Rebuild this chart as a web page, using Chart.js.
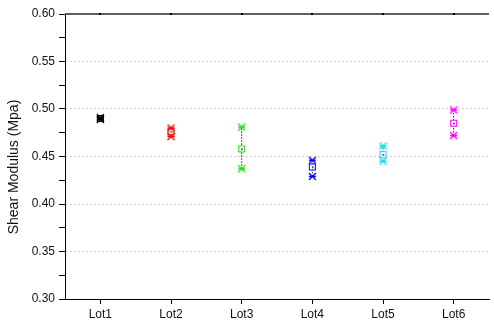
<!DOCTYPE html>
<html>
<head>
<meta charset="utf-8">
<script src="https://cdn.jsdelivr.net/npm/chart.js@4/dist/chart.umd.min.js"></script>
<style>
  html, body { margin: 0; padding: 0; background: #fff; }
  #c { display: block; }
</style>
</head>
<body>
<canvas id="c" width="494" height="326"></canvas>
<script>
// data
var lots = ['Lot1', 'Lot2', 'Lot3', 'Lot4', 'Lot5', 'Lot6'];
var maxVals  = [0.491, 0.480, 0.481, 0.446, 0.461, 0.499];
var meanVals = [0.490, 0.476, 0.458, 0.439, 0.452, 0.485];
var minVals  = [0.489, 0.471, 0.437, 0.429, 0.445, 0.472];
var lotColors = ['#000000', '#ff0000', '#22dd22', '#0000ff', '#00e5ee', '#ff00ff'];
var yTitle = 'Shear Modulus (Mpa)';

function starMark(color) {
  var cv = document.createElement('canvas');
  cv.width = 9; cv.height = 9;
  var g = cv.getContext('2d');
  g.strokeStyle = color;
  g.lineWidth = 1.3;
  g.beginPath();
  g.moveTo(1, 1); g.lineTo(8, 8);
  g.moveTo(8, 1); g.lineTo(1, 8);
  g.moveTo(1, 4.5); g.lineTo(8, 4.5);
  g.stroke();
  return cv;
}

function boxMark(color) {
  var cv = document.createElement('canvas');
  cv.width = 9; cv.height = 9;
  var g = cv.getContext('2d');
  g.fillStyle = '#fff';
  g.fillRect(1, 1, 7, 7);
  g.strokeStyle = color;
  g.lineWidth = 1;
  g.strokeRect(1.5, 1.5, 6, 6);
  g.fillStyle = '#000';
  g.fillRect(4, 4, 1.5, 1.5);
  return cv;
}

var stars = lotColors.map(starMark);
var boxes = lotColors.map(boxMark);

var datasets = [];
// dotted range lines, drawn under the markers
for (var i = 0; i < lots.length; i++) {
  datasets.push({
    data: [{x: lots[i], y: minVals[i]}, {x: lots[i], y: maxVals[i]}],
    borderColor: '#222',
    borderWidth: 1,
    borderDash: [1.5, 1.5],
    pointRadius: 0,
    fill: false,
    order: 10
  });
}
datasets.push({ data: meanVals, showLine: false, pointStyle: boxes, pointRadius: 4, order: 2 });
datasets.push({ data: maxVals, showLine: false, pointStyle: stars, pointRadius: 4, order: 1 });
datasets.push({ data: minVals, showLine: false, pointStyle: stars, pointRadius: 4, order: 0 });

function isMajor(v) {
  return Math.round(v * 1000) % 50 === 0;
}

var frame = {
  id: 'frame',
  afterDraw: function(chart) {
    var ctx = chart.ctx, a = chart.chartArea, xs = chart.scales.x;
    ctx.save();
    ctx.strokeStyle = '#606060';
    ctx.lineWidth = 2;
    ctx.beginPath();
    ctx.moveTo(a.left, a.top);
    ctx.lineTo(a.right, a.top);
    ctx.stroke();
    ctx.fillStyle = '#000';
    for (var i = 0; i < lots.length; i++) {
      var px = xs.getPixelForValue(i);
      ctx.fillRect(Math.round(px) - 1, a.top - 1, 2, 2);
    }
    ctx.translate(14, 167);
    ctx.rotate(-Math.PI / 2);
    ctx.font = '14px "Liberation Sans", Arial, sans-serif';
    ctx.textAlign = 'center';
    ctx.textBaseline = 'middle';
    ctx.fillStyle = '#111';
    ctx.fillText(yTitle, 0, 0);
    ctx.restore();
  }
};

new Chart(document.getElementById('c'), {
  type: 'line',
  data: { labels: lots, datasets: datasets },
  options: {
    responsive: false,
    animation: false,
    devicePixelRatio: 1,
    layout: { padding: { top: 14, right: 0, bottom: 0, left: 0 } },
    plugins: { legend: { display: false }, tooltip: { enabled: false } },
    scales: {
      x: {
        type: 'category',
        offset: true,
        afterFit: function(s) { s.height = 27; },
        grid: { drawOnChartArea: false, tickLength: 5, tickColor: '#000' },
        border: { color: '#000', width: 1 },
        ticks: { color: '#111', padding: 3, font: { family: '"Liberation Sans", Arial', size: 12 } }
      },
      y: {
        min: 0.30,
        max: 0.60,
        afterFit: function(s) { s.width = 65; },
        border: { color: '#000', width: 1, dash: [2, 2] },
        grid: {
          color: function(c) {
            var v = c.tick ? c.tick.value : 0;
            if (!isMajor(v) || Math.abs(v - 0.30) < 1e-6 || Math.abs(v - 0.60) < 1e-6) return 'rgba(0,0,0,0)';
            return '#d0d0d0';
          },
          tickColor: '#000',
          tickLength: 6,
          tickBorderDash: [1, 0]
        },
        ticks: {
          stepSize: 0.025,
          autoSkip: false,
          padding: 4,
          color: '#111',
          font: { family: '"Liberation Sans", Arial', size: 12 },
          callback: function(v) { return isMajor(v) ? v.toFixed(2) : ''; }
        }
      }
    }
  },
  plugins: [frame]
});
</script>
</body>
</html>
